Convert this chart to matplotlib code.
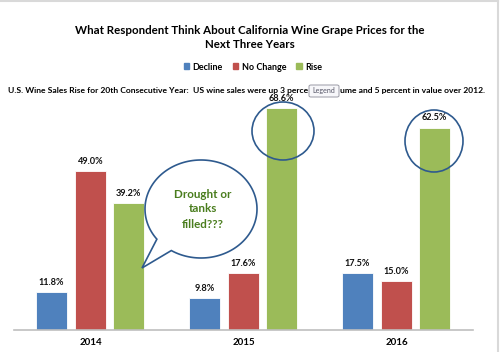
import numpy as np
import matplotlib
matplotlib.use("Agg")
import matplotlib.pyplot as plt
from matplotlib.patches import Ellipse, Polygon, Rectangle, FancyBboxPatch
from matplotlib.lines import Line2D

plt.rcParams['font.family'] = ['Lato', 'DejaVu Sans']

# data
years = ['2014', '2015', '2016']
series = ['Decline', 'No Change', 'Rise']
decline = [11.8, 9.8, 17.5]
no_change = [49.0, 17.6, 15.0]
rise = [39.2, 68.6, 62.5]
colors = ['#4F81BD', '#C0504D', '#9BBB59']

W, H = 500, 352


def fx(px):
    return px / W


def fy(py):
    return 1 - py / H


fig = plt.figure(figsize=(5, 3.52), dpi=100)
ax = fig.add_axes([fx(14), 22 / H, 459 / W, 259 / H])

x = np.arange(len(years))
offsets = [-0.255, 0.0, 0.25]
bw = 0.2
for vals, off, c in zip([decline, no_change, rise], offsets, colors):
    ax.bar(x + off, vals, bw, color=c, edgecolor='white', linewidth=0.6)
    for xi, v in zip(x + off, vals):
        ax.text(xi, v + 1.6, f'{v:.1f}%', ha='center', va='bottom',
                fontsize=6.6, fontweight='bold', color='#111111')

ax.set_xlim(-0.5, 2.5)
ax.set_ylim(0, 80)
ax.set_xticks(x)
ax.set_xticklabels(years, fontsize=7, fontweight='bold')
ax.tick_params(axis='x', length=0, pad=6)
ax.set_yticks([])
for s in ['top', 'right', 'left']:
    ax.spines[s].set_visible(False)
ax.spines['bottom'].set_color('#BFBFBF')
ax.spines['bottom'].set_linewidth(1.2)

# title
fig.text(0.5, fy(31), 'What Respondent Think About California Wine Grape Prices for the',
         ha='center', va='center', fontsize=8.3, fontweight='bold')
fig.text(0.5, fy(45), 'Next Three Years',
         ha='center', va='center', fontsize=8.3, fontweight='bold')

# legend
handles = [Rectangle((0, 0), 1, 1, color=c) for c in colors]
fig.legend(handles, series, loc='center', bbox_to_anchor=(fx(253), fy(67)),
           ncol=3, frameon=False, prop={'size': 6.5, 'weight': 'bold'},
           handlelength=0.6, handleheight=0.6, handletextpad=0.4,
           columnspacing=1.1)

# subtitle (middle part hidden behind the "Legend" tooltip)
fig.text(fx(308), fy(90),
         'U.S. Wine Sales Rise for 20th Consecutive Year:  US wine sales were up 3 perce',
         ha='right', va='center', fontsize=6.1, fontweight='bold')
fig.text(fx(340), fy(90), 'ume and 5 percent in value over 2012.',
         ha='left', va='center', fontsize=6.1, fontweight='bold')

# tooltip box
fig.patches.append(FancyBboxPatch((fx(309), fy(97)), fx(30), 12 / H,
                                  boxstyle='round,pad=0,rounding_size=0.004',
                                  transform=fig.transFigure, facecolor='#F7F7FA',
                                  edgecolor='#9A9AA5', linewidth=0.7, zorder=5))
fig.text(fx(324), fy(91), 'Legend', ha='center', va='center', fontsize=5.1,
         color='#555566', zorder=6)

# ellipses around rising bars
ring = '#2E5A8E'
for cx, cy, ew, eh in [(283, 131, 62, 58), (434, 141, 58, 62)]:
    fig.patches.append(Ellipse((fx(cx), fy(cy)), ew / W, eh / H, transform=fig.transFigure,
                               fill=False, edgecolor=ring, linewidth=1.2, zorder=4))

# speech bubble
cx, cy, a, b = 201, 209, 56, 49
t1, t2 = np.deg2rad(142), np.deg2rad(122)
ts = np.linspace(t1, t2 + 2 * np.pi, 200)
pts = [(cx + a * np.cos(t), cy + b * np.sin(t)) for t in ts]
pts.append((142, 268))
pts = [(fx(px), fy(py)) for px, py in pts]
fig.patches.append(Polygon(pts, closed=True, transform=fig.transFigure,
                           facecolor='white', edgecolor=ring, linewidth=1.2, zorder=4))
for i, line in enumerate(['Drought or', 'tanks', 'filled???']):
    fig.text(fx(203), fy(194 + 15 * i), line, ha='center', va='center',
             fontsize=8.4, fontweight='bold', color='#4A7D1E', zorder=6)

# outer frame lines
fig.lines.append(Line2D([0, fx(498)], [fy(1), fy(1)], transform=fig.transFigure,
                        color='#D9D9D9', linewidth=1.5))
fig.lines.append(Line2D([fx(498), fx(498)], [fy(1), 0], transform=fig.transFigure,
                        color='#D9D9D9', linewidth=1.5))

fig.savefig('out.png', dpi=100)
